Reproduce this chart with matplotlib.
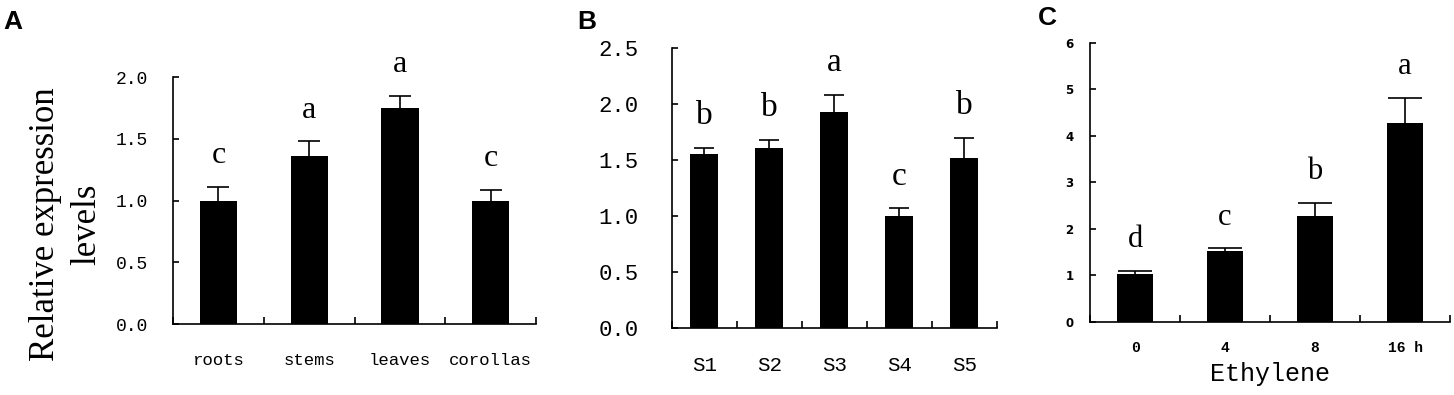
import matplotlib
matplotlib.use("Agg")
import matplotlib.pyplot as plt

# painel A - tecidos
tecidos = ['roots', 'stems', 'leaves', 'corollas']
tecidos_val = [1.0, 1.36, 1.75, 1.0]
tecidos_err = [0.11, 0.12, 0.10, 0.085]
tecidos_letras = ['c', 'a', 'a', 'c']

# painel B - estagios
estagios = ['S1', 'S2', 'S3', 'S4', 'S5']
estagios_val = [1.55, 1.61, 1.93, 1.0, 1.515]
estagios_err = [0.06, 0.07, 0.15, 0.07, 0.185]
estagios_letras = ['b', 'b', 'a', 'c', 'b']

# painel C - etileno
horas = ['0', '4', '8', '16 h']
horas_val = [1.02, 1.52, 2.28, 4.27]
horas_err = [0.07, 0.06, 0.28, 0.55]
horas_letras = ['d', 'c', 'b', 'a']

MONO = 'Liberation Mono'
SERIF = 'Liberation Serif'


def painel(ax, cats, vals, errs, letras, ymax, yticks, largura, capsize,
           tick_font, xtick_font, ypad, xpad, letra_size):
    n = len(cats)
    x = list(range(n))
    ax.bar(x, vals, width=largura, color='black', zorder=2)
    _, caps, _ = ax.errorbar(x, vals, yerr=[[0] * n, errs], fmt='none', ecolor='black',
                             elinewidth=1.2, capsize=capsize, capthick=1.2, zorder=3)
    caps[0].set_visible(False)  # so a barra de cima
    for xi, v, e, l in zip(x, vals, errs, letras):
        ax.annotate(l, (xi, v + e), xytext=(0, 17), textcoords='offset points',
                    ha='center', va='baseline', fontsize=letra_size, family=SERIF)
    ax.set_xlim(-0.5, n - 0.5)
    ax.set_ylim(0, ymax)
    ax.set_yticks(yticks)
    for s in ['top', 'right']:
        ax.spines[s].set_visible(False)
    for s in ['left', 'bottom']:
        ax.spines[s].set_linewidth(1.2)
    ax.set_xticks(x)
    ax.set_xticklabels(cats, **xtick_font)
    ax.set_xticks([i + 0.5 for i in range(-1, n)], minor=True)
    ax.tick_params(axis='x', which='major', length=0, pad=xpad)
    ax.tick_params(axis='x', which='minor', direction='in', length=5, width=1.2)
    ax.tick_params(axis='y', direction='in', length=4, width=1.2, pad=ypad)
    for t in ax.get_yticklabels():
        t.set(**tick_font)


fig = plt.figure(figsize=(14.54, 3.95), dpi=100)

axA = fig.add_axes([0.119, 0.1797, 0.2497, 0.6253])
painel(axA, tecidos, tecidos_val, tecidos_err, tecidos_letras, 2.0,
       [0.0, 0.5, 1.0, 1.5, 2.0], 0.41, 8,
       dict(family=MONO, fontsize=13), dict(family=MONO, fontsize=12.5),
       18, 21, 23)
axA.set_yticklabels(['0.0', '0.5', '1.0', '1.5', '2.0'], family=MONO, fontsize=13)

axB = fig.add_axes([0.462, 0.1696, 0.2237, 0.709])
painel(axB, estagios, estagios_val, estagios_err, estagios_letras, 2.5,
       [0.0, 0.5, 1.0, 1.5, 2.0, 2.5], 0.43, 7,
       dict(family=MONO, fontsize=16), dict(family=MONO, fontsize=15),
       24, 20, 24)
axB.set_yticklabels(['0.0', '0.5', '1.0', '1.5', '2.0', '2.5'], family=MONO, fontsize=16)

axC = fig.add_axes([0.7497, 0.1856, 0.2476, 0.7063])
painel(axC, horas, horas_val, horas_err, horas_letras, 6,
       [0, 1, 2, 3, 4, 5, 6], 0.40, 12,
       dict(family='DejaVu Sans', fontsize=8.5, fontweight='bold'),
       dict(family=MONO, fontsize=10.5, fontweight='bold'),
       12, 14, 22)
axC.set_xlabel('Ethylene', family=MONO, fontsize=18, labelpad=5)

# titulo do eixo y do painel A
fig.text(0.0455, 0.433, 'Relative expression\nlevels', rotation=90, ha='center',
         va='center', fontsize=25, family=SERIF, linespacing=1.3,
         multialignment='center')

# letras dos paineis
fig.text(0.002, 0.975, 'A', fontsize=19, fontweight='bold', va='top',
         family='Liberation Sans')
fig.text(0.397, 0.975, 'B', fontsize=19, fontweight='bold', va='top',
         family='Liberation Sans')
fig.text(0.714, 0.985, 'C', fontsize=19, fontweight='bold', va='top',
         family='Liberation Sans')

fig.savefig('out.png', dpi=100)
